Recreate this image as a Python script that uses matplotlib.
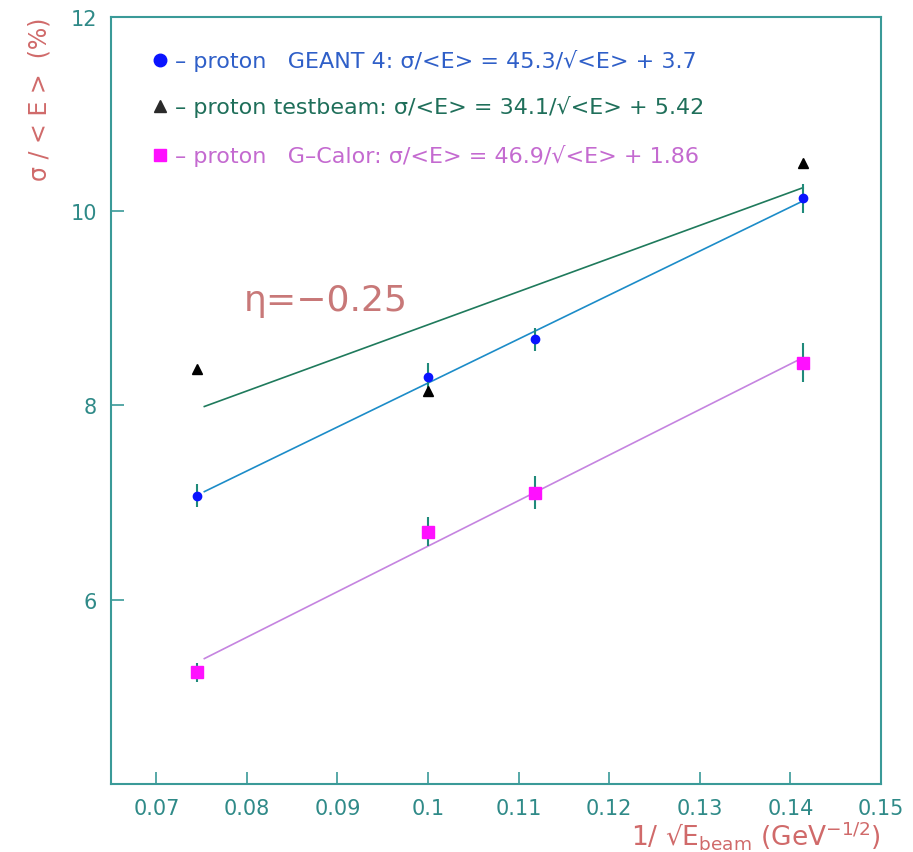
import matplotlib.pyplot as plt

plt.rcParams['font.family'] = ['DejaVu Sans']
plt.rcParams['mathtext.default'] = 'regular'

# 1/sqrt(E) of the beam energies (180, 100, 80, 50 GeV)
x_geant = [0.0745, 0.1, 0.1118, 0.1414]
y_geant = [7.07, 8.29, 8.68, 10.13]
err_geant = [0.12, 0.15, 0.12, 0.15]

x_beam = [0.0745, 0.1, 0.1414]
y_beam = [8.37, 8.15, 10.50]

x_gcalor = [0.0745, 0.1, 0.1118, 0.1414]
y_gcalor = [5.25, 6.70, 7.10, 8.44]
err_gcalor = [0.10, 0.15, 0.17, 0.20]

# fit parameters  sigma/<E> = a/sqrt(<E>) + b  (a in %, x = 1/sqrt(E))
fit_a = [45.3, 34.1, 46.9]
fit_b = [3.7, 5.42, 1.86]
fit_x = [0.0753, 0.1414]

legend_texts = [
    "\u2013 proton   GEANT 4: \u03c3/<E> = 45.3/\u221a<E> + 3.7",
    "\u2013 proton testbeam: \u03c3/<E> = 34.1/\u221a<E> + 5.42",
    "\u2013 proton   G\u2013Calor: \u03c3/<E> = 46.9/\u221a<E> + 1.86",
]

frame_col = "#3a9a98"
salmon = "#d06a6a"
tick_col = "#2f8a88"
line_cols = ["#1c8cc8", "#1f7a5c", "#c584e0"]
text_cols = ["#2f5fc8", "#1f6f5a", "#c46ad0"]

fig = plt.figure(figsize=(9.13, 8.53), dpi=100)
ax = fig.add_axes([0.1216, 0.0797, 0.8434, 0.8993])

# fit lines
for a, b, c in zip(fit_a, fit_b, line_cols):
    ax.plot(fit_x, [a * v + b for v in fit_x], color=c, lw=1.2, zorder=2)

ax.errorbar(x_geant, y_geant, yerr=err_geant, fmt="o", color="#0a14ff",
            ms=6, ecolor="#1f8a7a", elinewidth=1.5, capsize=0, zorder=4)
ax.errorbar(x_gcalor, y_gcalor, yerr=err_gcalor, fmt="s", color="#ff10ff",
            ms=9, ecolor="#1f8a7a", elinewidth=1.5, capsize=0, zorder=4)
ax.plot(x_beam, y_beam, "^", color="black", ms=7, zorder=5)

ax.set_xlim(0.065, 0.15)
ax.set_ylim(4.1, 12)
ax.set_xticks([0.07, 0.08, 0.09, 0.1, 0.11, 0.12, 0.13, 0.14, 0.15])
ax.set_xticklabels(["0.07", "0.08", "0.09", "0.1", "0.11", "0.12", "0.13", "0.14", "0.15"])
ax.set_yticks([6, 8, 10, 12])
ax.tick_params(direction="in", length=9, width=1.2, color=frame_col,
               labelcolor=tick_col, labelsize=15, pad=10)
for s in ax.spines.values():
    s.set_color(frame_col)
    s.set_linewidth(1.5)

ax.set_xlabel("1/ \u221aE$_{beam}$ (GeV$^{-1/2}$)", color=salmon,
              fontsize=19, loc="right", labelpad=0)
ax.set_ylabel("\u03c3 / < E >  (%)", color=salmon, fontsize=17, loc="top", labelpad=14)

# legend drawn as text rows
leg_y = [0.944, 0.884, 0.820]
markers = ["o", "^", "s"]
mcols = ["#0a14ff", "#2a2a2a", "#ff10ff"]
for ty, txt, tc, m, mc in zip(leg_y, legend_texts, text_cols, markers, mcols):
    ax.plot(0.064, ty, m, color=mc, ms=9, transform=ax.transAxes, clip_on=False)
    ax.text(0.083, ty, txt, color=tc, fontsize=16, va="center", transform=ax.transAxes)

ax.text(0.0797, 9.08, "\u03b7=\u22120.25", color="#c87878", fontsize=26, va="center")

fig.savefig("out.png", dpi=100)
